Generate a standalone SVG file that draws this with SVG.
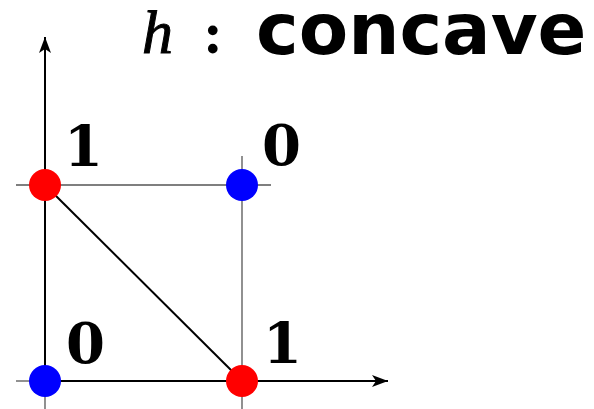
<svg xmlns="http://www.w3.org/2000/svg" width="594" height="409" viewBox="0 0 594 409">
<defs>
<marker id="arr" viewBox="0 0 16 12" refX="16" refY="6" markerWidth="16" markerHeight="12" markerUnits="userSpaceOnUse" orient="auto">
<path d="M0,0 L16,6 L0,12 L4,6 Z" fill="#000"/>
</marker>
</defs>
<style>
.grid{stroke:#555;stroke-width:1.3;fill:none}
.axis{stroke:#000;stroke-width:2;fill:none}
.lbl{font-family:"DejaVu Serif","Liberation Serif",serif;font-weight:bold;font-size:56px;fill:#000}
.title{font-family:"DejaVu Sans","Liberation Sans",sans-serif;font-weight:bold;font-size:72px;fill:#000}
</style>
<rect width="594" height="409" fill="#fff"/>
<g id="grid">
<line class="grid" x1="16" y1="185" x2="271" y2="185"/>
<line class="grid" x1="242" y1="156" x2="242" y2="409"/>
<line class="grid" x1="16" y1="381" x2="45" y2="381"/>
<line class="grid" x1="45" y1="381" x2="45" y2="409"/>
</g>
<g id="connectors">
<line class="axis" x1="45" y1="381" x2="388" y2="381" marker-end="url(#arr)"/>
<line class="axis" x1="45" y1="381" x2="45" y2="37" marker-end="url(#arr)"/>
<line class="axis" x1="45" y1="185" x2="242" y2="381"/>
</g>
<g id="p00"><circle cx="45" cy="381" r="16" fill="#0000ff"/><text class="lbl" x="66" y="363">0</text></g>
<g id="p10"><circle cx="242" cy="381" r="16" fill="#ff0000"/><text class="lbl" x="263" y="363">1</text></g>
<g id="p01"><circle cx="45" cy="185" r="16" fill="#ff0000"/><text class="lbl" x="64" y="166">1</text></g>
<g id="p11"><circle cx="242" cy="185" r="16" fill="#0000ff"/><text class="lbl" x="262" y="165">0</text></g>
<g id="title">
<text x="142" y="53" font-family="Liberation Serif,serif" font-style="italic" font-size="62" stroke="#000" stroke-width="1">h</text>
<text x="203" y="53" font-family="Liberation Serif,serif" font-weight="bold" font-size="60">:</text>
<text class="title" x="256" y="54">concave</text>
</g>
</svg>
